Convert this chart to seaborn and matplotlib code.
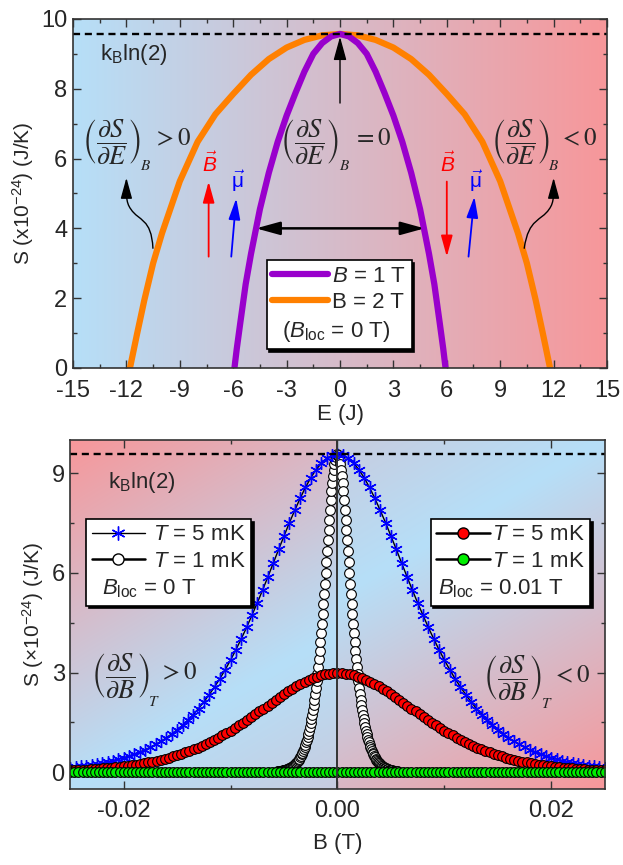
import numpy as np
import matplotlib
matplotlib.use('Agg')
from matplotlib import pyplot as plt
from matplotlib.lines import Line2D
from matplotlib.patches import FancyArrowPatch
from matplotlib.path import Path
from matplotlib.colors import to_rgb
from matplotlib.ticker import MultipleLocator
import seaborn as sns

# ---------------- data (S in units of 1e-24 J/K) ----------------
s_max = 9.57  # k_B ln(2)

# top panel, S(E); right halves, the curves are symmetric in E
e_purple_half = [0.0, 0.5, 1.0, 1.5, 2.0, 2.5, 3.0, 3.5, 4.0, 4.5, 5.0, 5.3, 5.6, 5.8, 5.93]
s_purple_half = [9.57, 9.50, 9.31, 9.00, 8.49, 7.88, 7.23, 6.48, 5.59, 4.55, 3.27, 2.40, 1.30, 0.55, 0.0]
e_orange_half = [0.0, 1.0, 2.0, 3.0, 4.0, 5.0, 6.0, 7.0, 8.0, 9.0, 10.0, 10.5, 11.0, 11.4, 11.8]
s_orange_half = [9.57, 9.53, 9.40, 9.18, 8.85, 8.40, 7.85, 7.27, 6.48, 5.35, 3.86, 3.00, 1.93, 0.98, 0.0]

# bottom panel, S(B); values for B >= 0, the curves are symmetric in B
b_blue = np.linspace(-0.025, 0.025, 101)
s_blue_half = [9.57, 9.54, 9.45, 9.30, 9.11, 8.86, 8.57, 8.24, 7.88, 7.51,
               7.11, 6.71, 6.30, 5.89, 5.49, 5.10, 4.73, 4.36, 4.02, 3.69,
               3.38, 3.09, 2.82, 2.57, 2.34, 2.12, 1.92, 1.74, 1.57, 1.42,
               1.28, 1.16, 1.04, 0.94, 0.84, 0.76, 0.68, 0.61, 0.55, 0.49,
               0.44, 0.40, 0.35, 0.32, 0.28, 0.25, 0.23, 0.20, 0.18, 0.16, 0.14]

b_white = np.linspace(-0.0056, 0.0056, 161)
s_white_half = [9.57, 9.55, 9.49, 9.40, 9.27, 9.11, 8.92, 8.70, 8.45, 8.19,
                7.90, 7.60, 7.29, 6.98, 6.65, 6.33, 6.00, 5.68, 5.37, 5.06,
                4.76, 4.47, 4.19, 3.92, 3.66, 3.41, 3.18, 2.96, 2.75, 2.55,
                2.37, 2.19, 2.03, 1.88, 1.73, 1.60, 1.48, 1.36, 1.25, 1.15,
                1.06, 0.98, 0.90, 0.83, 0.76, 0.70, 0.64, 0.59, 0.54, 0.49,
                0.45, 0.41, 0.38, 0.35, 0.32, 0.29, 0.27, 0.24, 0.22, 0.20,
                0.19, 0.17, 0.15, 0.14, 0.13, 0.12, 0.11, 0.10, 0.09, 0.08,
                0.07, 0.07, 0.06, 0.06, 0.05, 0.05, 0.04, 0.04, 0.04, 0.03, 0.03]

b_red = np.linspace(-0.025, 0.025, 131)
s_red_half = [2.99, 2.98, 2.97, 2.95, 2.92, 2.88, 2.84, 2.79, 2.73, 2.66,
              2.59, 2.52, 2.44, 2.36, 2.28, 2.19, 2.10, 2.01, 1.92, 1.84,
              1.75, 1.66, 1.58, 1.49, 1.41, 1.33, 1.25, 1.18, 1.11, 1.04,
              0.97, 0.91, 0.85, 0.80, 0.74, 0.69, 0.64, 0.60, 0.56, 0.52,
              0.48, 0.44, 0.41, 0.38, 0.35, 0.32, 0.30, 0.28, 0.25, 0.23,
              0.22, 0.20, 0.18, 0.17, 0.15, 0.14, 0.13, 0.12, 0.11, 0.10,
              0.09, 0.08, 0.08, 0.07, 0.07, 0.06]
s_green_half = [0.0] * 66

e_ticks = [-15, -12, -9, -6, -3, 0, 3, 6, 9, 12, 15]
s_ticks_top = [0, 2, 4, 6, 8, 10]
b_ticks = [-0.02, 0.0, 0.02]
b_tick_labels = ['-0.02', '0.00', '0.02']
s_ticks_bot = [0, 3, 6, 9]


def mirror(half):
    return half[:0:-1] + half


def mirror_neg(half):
    return [-v for v in half[:0:-1]] + half


# ---------------- style ----------------
sns.set_style('ticks')
plt.rcParams['font.family'] = ['Liberation Sans', 'DejaVu Sans']
plt.rcParams.update({
    'axes.unicode_minus': False,
    'mathtext.fontset': 'custom',
    'mathtext.rm': 'Liberation Sans',
    'mathtext.it': 'Liberation Sans:italic',
    'mathtext.bf': 'Liberation Sans:bold',
    'axes.edgecolor': '#333333',
    'axes.linewidth': 1.2,
})

purple = '#9900cc'
orange = '#ff8000'
bg_blue = np.array(to_rgb('#b6dff8'))
bg_red = np.array(to_rgb('#f7979a'))
fs_tick = 17
fs_lab = 15
fs_leg = 16
fs_frac = 19
fs_sub = 11
fs_rel = 18


def derivative(ax, frac_xy, sub_xy, rel_xy, var, sub, rel):
    # partial derivative in brackets, its subscript and its sign beside it
    ax.text(*frac_xy, r'$\left(\dfrac{\partial S}{\partial ' + var + r'}\right)$',
            math_fontfamily='stix', fontsize=fs_frac, ha='center', va='center')
    ax.text(*sub_xy, '$' + sub + '$', math_fontfamily='stix', fontsize=fs_sub,
            ha='center', va='center')
    ax.text(*rel_xy, '$' + rel + '$', math_fontfamily='stix', fontsize=fs_rel,
            ha='center', va='center')


fig = plt.figure(figsize=(6.23, 8.65), dpi=100)
ax1 = fig.add_axes([0.1172, 0.5746, 0.8571, 0.4035])
ax2 = fig.add_axes([0.1128, 0.0879, 0.8578, 0.4035])

# ---------------- top panel ----------------
t = np.linspace(0, 1, 256)[None, :, None]
ax1.imshow(bg_blue * (1 - t) + bg_red * t, extent=[-15, 15, 0, 10],
           aspect='auto', zorder=0, interpolation='bilinear')

sns.lineplot(x=mirror_neg(e_orange_half), y=mirror(s_orange_half), ax=ax1, sort=False,
             estimator=None, color=orange, linewidth=4.5, zorder=3)
sns.lineplot(x=mirror_neg(e_purple_half), y=mirror(s_purple_half), ax=ax1, sort=False,
             estimator=None, color=purple, linewidth=4.5, zorder=3)
ax1.axhline(s_max, color='k', lw=1.7, ls=(0, (3, 2)), zorder=4)

ax1.set_xlim(-15, 15)
ax1.set_ylim(0, 10)
ax1.set_xticks(e_ticks)
ax1.set_yticks(s_ticks_top)
ax1.xaxis.set_minor_locator(MultipleLocator(1.5))
ax1.yaxis.set_minor_locator(MultipleLocator(1))
ax1.set_xlabel('E (J)', fontsize=fs_lab + 1, labelpad=1)
ax1.set_ylabel(r'S (x10$^{-24}$) (J/K)', fontsize=fs_lab)

ax1.text(-13.5, 8.97, r'k$_{\rm B}$ln(2)', fontsize=fs_leg, va='center', ha='left')
derivative(ax1, (-12.84, 6.49), (-10.95, 5.78), (-9.45, 6.59), 'E', 'B', '>0')
derivative(ax1, (-1.69, 6.49), (0.25, 5.78), (1.8, 6.59), 'E', 'B', '=0')
derivative(ax1, (10.14, 6.49), (12.0, 5.78), (13.4, 6.59), 'E', 'B', '<0')

head = '-|>,head_length=0.8,head_width=0.22'
ax1.annotate('', xy=(0, 9.49), xytext=(0, 7.59),
             arrowprops=dict(arrowstyle=head, color='k', lw=1.0, shrinkA=0, shrinkB=0,
                             mutation_scale=18))
ax1.annotate('', xy=(4.75, 4.0), xytext=(-4.72, 4.0),
             arrowprops=dict(arrowstyle='<|-|>,head_length=0.8,head_width=0.22', color='k',
                             lw=1.8, shrinkA=0, shrinkB=0, mutation_scale=18))
for x0, y0, x1, y1, c in [(-7.38, 3.19, -7.38, 5.34, 'red'), (6.0, 5.34, 6.0, 3.19, 'red'),
                          (-6.11, 3.19, -5.83, 4.86, 'blue'), (7.22, 3.19, 7.55, 4.91, 'blue')]:
    ax1.annotate('', xy=(x1, y1), xytext=(x0, y0),
                 arrowprops=dict(arrowstyle=head, color=c, lw=1.3, shrinkA=0, shrinkB=0,
                                 mutation_scale=16))
ax1.text(-7.3, 5.85, r'$\vec{B}$', color='red', fontsize=15, ha='center', va='center')
ax1.text(6.05, 5.85, r'$\vec{B}$', color='red', fontsize=15, ha='center', va='center')
ax1.text(-5.75, 5.35, r'$\vec{\mathrm{\mu}}$', color='blue', fontsize=15, ha='center', va='center')
ax1.text(7.65, 5.35, r'$\vec{\mathrm{\mu}}$', color='blue', fontsize=15, ha='center', va='center')

codes = [Path.MOVETO] + [Path.CURVE4] * 6
for sgn, x_start in [(-1, 10.51), (1, 10.35)]:
    verts = [(sgn * x_start, 3.43), (sgn * 10.6, 4.3), (sgn * 11.3, 4.2), (sgn * 11.75, 4.55),
             (sgn * 12.05, 4.75), (sgn * 12.0, 5.0), (sgn * 12.0, 5.45)]
    arrow = FancyArrowPatch(path=Path(verts, codes), arrowstyle=head, mutation_scale=16,
                            lw=1.0, color='k', zorder=5)
    ax1.add_patch(arrow)

leg_top = ax1.legend(
    handles=[Line2D([], [], color=purple, lw=4.5), Line2D([], [], color=orange, lw=4.5),
             Line2D([], [], ls='none')],
    labels=[r'$B$ = 1 T', 'B = 2 T', r'($B_{\rm loc}$ = 0 T)'],
    loc='upper left', bbox_to_anchor=(0.3627, 0.309), borderaxespad=0, fontsize=fs_leg,
    handlelength=2.5, handletextpad=0.2, borderpad=0.25, labelspacing=0.25,
    fancybox=False, framealpha=1, edgecolor='k', shadow={'color': 'k', 'alpha': 1})
leg_top.get_frame().set_linewidth(1.2)

# ---------------- bottom panel ----------------
X, Y = np.meshgrid(np.linspace(-1, 1, 400), np.linspace(0, 1, 200))
U = 1 - np.abs(X)
V = np.where(X < 0, Y, 1 - Y)
D = V - 0.45 * U
T = np.clip(np.where(D > 0, D, -0.6 * D), 0, 1)[:, :, None]
ax2.imshow(bg_blue * (1 - T) + bg_red * T, extent=[-0.025, 0.025, -0.5, 10], origin='lower',
           aspect='auto', zorder=0, interpolation='bilinear')

sns.lineplot(x=b_white, y=mirror(s_white_half), ax=ax2, sort=False, estimator=None,
             color='k', linewidth=1.5, marker='o', markersize=7, markerfacecolor='white',
             markeredgecolor='k', markeredgewidth=0.8, zorder=3)
sns.lineplot(x=b_blue, y=mirror(s_blue_half), ax=ax2, sort=False, estimator=None,
             color='k', linewidth=1.0, marker=(6, 2, 0), markersize=9,
             markeredgecolor='blue', markeredgewidth=1.0, zorder=4)
sns.lineplot(x=b_red, y=mirror(s_red_half), ax=ax2, sort=False, estimator=None,
             color='k', linewidth=1.5, marker='o', markersize=7, markerfacecolor='red',
             markeredgecolor='k', markeredgewidth=0.8, zorder=5)
sns.lineplot(x=b_red, y=mirror(s_green_half), ax=ax2, sort=False, estimator=None,
             color='k', linewidth=1.5, marker='o', markersize=7, markerfacecolor='#00ee00',
             markeredgecolor='k', markeredgewidth=0.8, zorder=6)
ax2.axhline(s_max, color='k', lw=1.7, ls=(0, (3, 2)), zorder=7)
ax2.axvline(0, color='#333333', lw=1.4, zorder=7)

ax2.set_xlim(-0.025, 0.025)
ax2.set_ylim(-0.5, 10)
ax2.set_xticks(b_ticks, labels=b_tick_labels)
ax2.set_yticks(s_ticks_bot)
ax2.xaxis.set_minor_locator(MultipleLocator(0.01))
ax2.yaxis.set_minor_locator(MultipleLocator(1.5))
ax2.set_xlabel('B (T)', fontsize=fs_lab + 1, labelpad=8)
ax2.set_ylabel('S (\u00d710$^{-24}$) (J/K)', fontsize=fs_lab)

ax2.text(-0.0215, 8.72, r'k$_{\rm B}$ln(2)', fontsize=fs_leg, va='center', ha='left')
derivative(ax2, (-0.0203, 2.92), (-0.01715, 2.12), (-0.0149, 3.02), 'B', 'T', '>0')
derivative(ax2, (0.0164, 2.85), (0.01955, 2.05), (0.02185, 2.92), 'B', 'T', '<0')

blank = Line2D([], [], ls='none')
leg_l = ax2.legend(
    handles=[Line2D([], [], color='k', lw=1.0, marker=(6, 2, 0), ms=10, mec='blue', mew=1.0),
             Line2D([], [], color='k', lw=1.8, marker='o', ms=8, mfc='white', mec='k'), blank],
    labels=[r'$T$ = 5 mK', r'$T$ = 1 mK', r'$B_{\rm loc}$ = 0 T'],
    loc='upper left', bbox_to_anchor=(0.0294, 0.774), borderaxespad=0, fontsize=fs_leg,
    handlelength=2.4, handletextpad=0.35, borderpad=0.25, labelspacing=0.25,
    fancybox=False, framealpha=1, edgecolor='k', shadow={'color': 'k', 'alpha': 1})
leg_l.get_frame().set_linewidth(1.2)
ax2.add_artist(leg_l)
leg_r = ax2.legend(
    handles=[Line2D([], [], color='k', lw=1.8, marker='o', ms=8, mfc='red', mec='k'),
             Line2D([], [], color='k', lw=1.8, marker='o', ms=8, mfc='#00ee00', mec='k'), blank],
    labels=[r'$T$ = 5 mK', r'$T$ = 1 mK', r'$B_{\rm loc}$ = 0.01 T'],
    loc='upper left', bbox_to_anchor=(0.6744, 0.774), borderaxespad=0, fontsize=fs_leg,
    handlelength=2.4, handletextpad=0.1, borderpad=0.25, labelspacing=0.25,
    fancybox=False, framealpha=1, edgecolor='k', shadow={'color': 'k', 'alpha': 1})
leg_r.get_frame().set_linewidth(1.2)

# the last legend row has no handle: a short empty slot instead of the full one
for leg, slot in ((leg_top, 4), (leg_l, 2), (leg_r, 0)):
    row = leg._legend_handle_box.get_children()[0].get_children()[-1]
    row.get_children()[0].width = slot

for ax in (ax1, ax2):
    ax.tick_params(which='both', direction='in', top=True, right=True, width=1.0,
                   color='#333333', labelsize=fs_tick)
    ax.tick_params(which='major', length=6)
    ax.tick_params(which='minor', length=3)
    ax.tick_params(axis='y', pad=4)
    for sp in ax.spines.values():
        sp.set_zorder(8)
ax1.tick_params(axis='x', pad=9)
ax2.tick_params(axis='x', pad=8)

fig.savefig('out.png', dpi=100)
